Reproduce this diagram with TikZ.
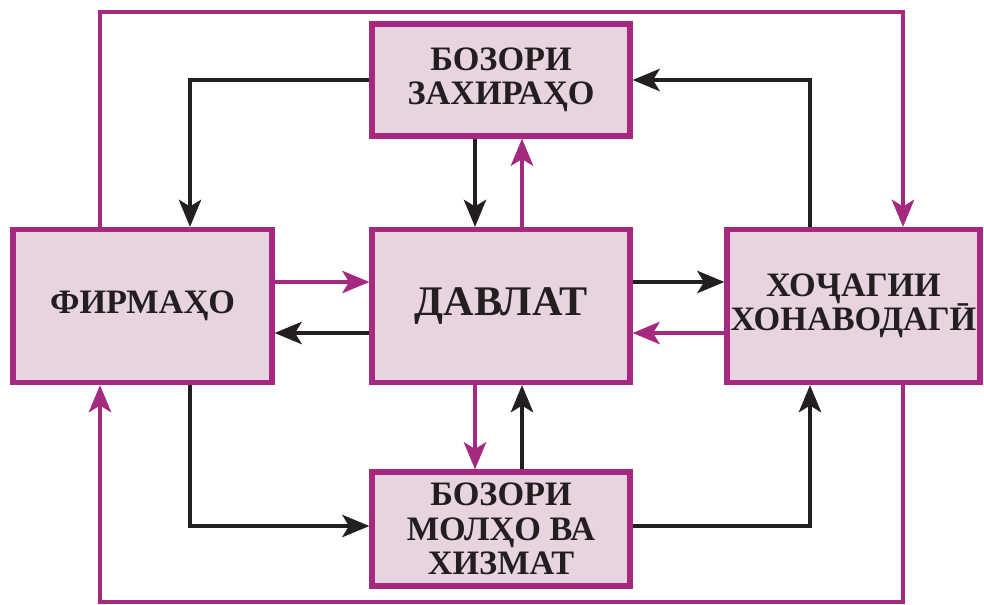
\documentclass[tikz,border=0pt]{standalone}
\usepackage{fontspec}
\setmainfont{Liberation Serif}
\usetikzlibrary{arrows.meta}
\definecolor{magline}{HTML}{A52A7F}
\definecolor{boxfill}{HTML}{E8D4E1}
\definecolor{txtblack}{HTML}{231F20}

\begin{document}
\begin{tikzpicture}[x=0.02cm,y=-0.02cm,
    box/.style={draw=magline,fill=boxfill,line width=2.9pt,
      align=center,font=\bfseries\fontsize{19.5}{19.6}\selectfont,
      text=txtblack,inner sep=0pt},
    blk/.style={draw=txtblack,line width=2.8pt,
      -{Stealth[length=0.54cm,width=0.44cm,inset=0.13cm]}},
    mag/.style={draw=magline,line width=2.8pt,
      -{Stealth[length=0.54cm,width=0.44cm,inset=0.13cm]}}]
  % fix the page to the picture size
  \useasboundingbox (0,0) rectangle (984,605);

  % the five boxes
  \node[box,minimum width=5.16cm,minimum height=2.24cm] (zah) at (501,80)
    {БОЗОРИ\\ЗАХИРАҲО};
  \node[box,minimum width=5.18cm,minimum height=3.06cm] (firm) at (142.5,306)
    {ФИРМАҲО};
  \node[box,minimum width=5.16cm,minimum height=3.06cm,
    font=\bfseries\fontsize{24}{24}\selectfont] (davlat) at (501,306)
    {ДАВЛАТ};
  \node[box,minimum width=5.06cm,minimum height=3.06cm] (hon) at (853.5,306)
    {ХОҶАГИИ\\ХОНАВОДАГӢ};
  \node[box,minimum width=5.16cm,minimum height=2.28cm] (mol) at (501,529)
    {БОЗОРИ\\МОЛҲО ВА\\ХИЗМАТ};

  % outer loop
  \coordinate (tl) at (100,12);
  \coordinate (tr) at (903,12);
  \coordinate (bl) at (100,602);
  \coordinate (br) at (903,602);
  \draw[mag] (firm.north -| tl) -- (tl) -- (tr) -- (hon.north -| tr);
  \draw[mag] (hon.south -| br) -- (br) -- (bl) -- (firm.south -| bl);

  % resource market
  \coordinate (zl) at (190,80);
  \coordinate (zr) at (810,80);
  \draw[blk] (zah.west) -- (zl) -- (firm.north -| zl);
  \draw[blk] (hon.north -| zr) -- (zr) -- (zah.east);
  \draw[blk] (zah.south -| 475,0) -- (davlat.north -| 475,0);
  \draw[mag] (davlat.north -| 522,0) -- (zah.south -| 522,0);

  % state and the two sides
  \draw[mag] (firm.east |- 0,282) -- (davlat.west |- 0,282);
  \draw[blk] (davlat.west |- 0,333) -- (firm.east |- 0,333);
  \draw[blk] (davlat.east |- 0,282) -- (hon.west |- 0,282);
  \draw[mag] (hon.west |- 0,333) -- (davlat.east |- 0,333);

  % goods market
  \coordinate (ml) at (190,526);
  \coordinate (mr) at (810,526);
  \draw[mag] (davlat.south -| 475,0) -- (mol.north -| 475,0);
  \draw[blk] (mol.north -| 522,0) -- (davlat.south -| 522,0);
  \draw[blk] (firm.south -| ml) -- (ml) -- (mol.west |- ml);
  \draw[blk] (mol.east |- mr) -- (mr) -- (hon.south -| mr);

\end{tikzpicture}
\end{document}
